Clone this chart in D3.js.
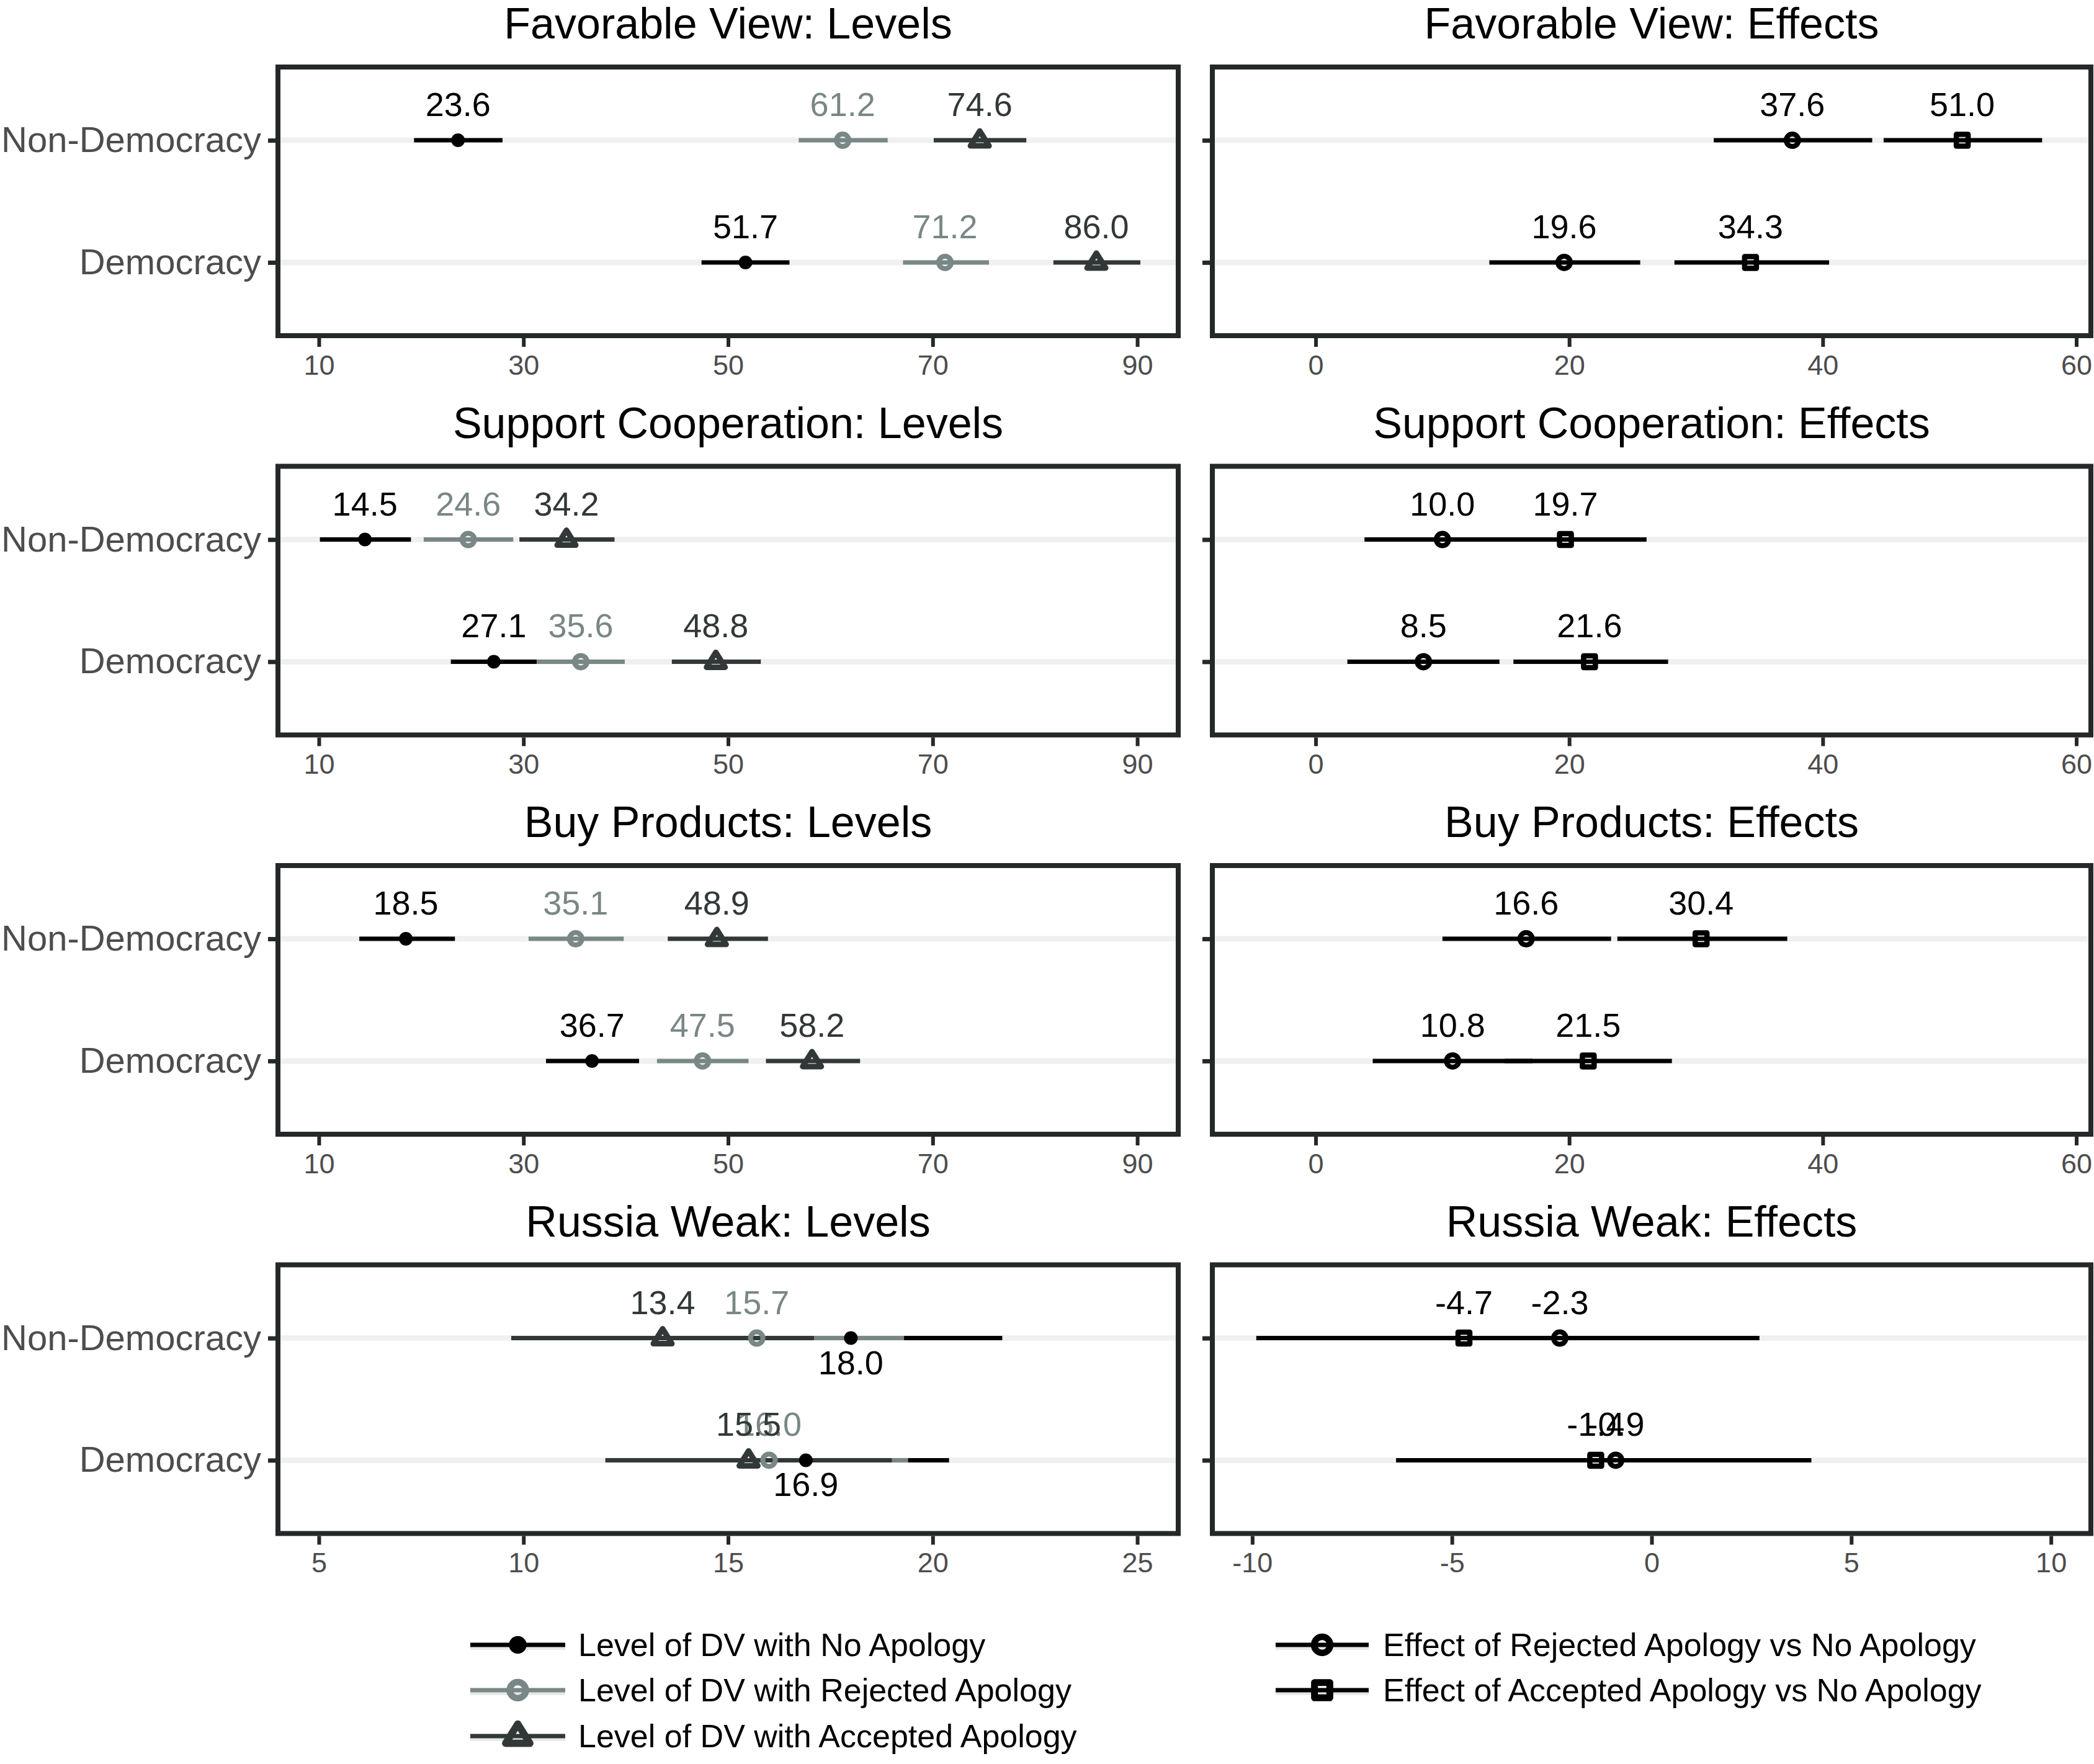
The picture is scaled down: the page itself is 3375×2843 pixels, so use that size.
<!DOCTYPE html>
<html lang="en">
<head>
<meta charset="UTF-8" />
<title>Apology levels and effects</title>
<script src="https://d3js.org/d3.v7.min.js"></script>
<style>
  body { margin: 0; background: #fff; }
  svg { display: block; font-family: "Liberation Sans", Arial, Helvetica, sans-serif; }
</style>
</head>
<body>
<svg id="chart" width="3375" height="2843"></svg>
<script>
const outcomes = ["Favorable View", "Support Cooperation", "Buy Products", "Russia Weak"];
const regimes = ["Non-Democracy", "Democracy"];
const levelSeries = ["Level of DV with No Apology", "Level of DV with Rejected Apology", "Level of DV with Accepted Apology"];
const effectSeries = ["Effect of Rejected Apology vs No Apology", "Effect of Accepted Apology vs No Apology"];

// [outcome][regime][series]
const levelEst = [
  [[23.6, 61.2, 74.6], [51.7, 71.2, 86.0]],
  [[14.5, 24.6, 34.2], [27.1, 35.6, 48.8]],
  [[18.5, 35.1, 48.9], [36.7, 47.5, 58.2]],
  [[18.0, 15.7, 13.4], [16.9, 16.0, 15.5]]
];
const levelLo = [
  [[19.3, 56.9, 70.1], [47.4, 67.1, 81.8]],
  [[10.1, 20.25, 29.6], [22.9, 31.3, 44.5]],
  [[13.95, 30.5, 44.1], [32.2, 43.05, 53.7]],
  [[14.3, 12.1, 9.7], [13.4, 12.6, 12.0]]
];
const levelHi = [
  [[27.95, 65.6, 79.15], [56.0, 75.5, 90.3]],
  [[19.0, 29.0, 38.9], [31.3, 39.9, 53.2]],
  [[23.3, 39.8, 53.9], [41.3, 52.0, 62.9]],
  [[21.7, 19.3, 17.1], [20.4, 19.4, 19.0]]
];
const effectEst = [
  [[37.6, 51.0], [19.6, 34.3]],
  [[10.0, 19.7], [8.5, 21.6]],
  [[16.6, 30.4], [10.8, 21.5]],
  [[-2.3, -4.7], [-0.9, -1.4]]
];
const effectLo = [
  [[31.4, 44.8], [13.7, 28.3]],
  [[3.85, 13.3], [2.5, 15.6]],
  [[10.0, 23.8], [4.5, 14.9]],
  [[-7.4, -9.9], [-5.8, -6.4]]
];
const effectHi = [
  [[43.9, 57.3], [25.6, 40.5]],
  [[16.15, 26.1], [14.5, 27.8]],
  [[23.3, 37.2], [17.1, 28.1]],
  [[2.7, 0.5], [4.0, 3.5]]
];

const levelLimits = [[10, 90], [10, 90], [10, 90], [5, 25]];
const levelTicks = [[10, 30, 50, 70, 90], [10, 30, 50, 70, 90], [10, 30, 50, 70, 90], [5, 10, 15, 20, 25]];
const effectLimits = [[-5, 58], [-5, 58], [-5, 58], [-10, 10]];
const effectTicks = [[0, 20, 40, 60], [0, 20, 40, 60], [0, 20, 40, 60], [-10, -5, 0, 5, 10]];
// series whose value labels sit under the point
const levelBelow = [[], [], [], [0]];

const levelColors = ["#000000", "#798786", "#323838"];
const levelShapes = ["dot", "circle", "triangle"];
const effectColors = ["#000000", "#000000"];
const effectShapes = ["circle", "square"];

const svg = d3.select("#chart");
const FONT = '"Liberation Sans", Arial, Helvetica, sans-serif';
const INK = "#242828";
const boxH = 433, rowTop = 108, rowPitch = 643.5;
const colL = [448, 1899], colR = [1954, 3370];

function shape(g, kind, color, x, y, s) {
  s = s || 1;
  if (kind === "dot") {
    g.append("circle").attr("cx", x).attr("cy", y).attr("r", 11 * s).attr("fill", color);
  } else if (kind === "circle") {
    g.append("circle").attr("cx", x).attr("cy", y).attr("r", 10 * s)
      .attr("fill", "none").attr("stroke", color).attr("stroke-width", 8 * s);
  } else if (kind === "triangle") {
    const p = d3.path();
    p.moveTo(x, y - 15 * s); p.lineTo(x + 15 * s, y + 9 * s); p.lineTo(x - 15 * s, y + 9 * s); p.closePath();
    g.append("path").attr("d", p.toString()).attr("fill", "none").attr("stroke", color)
      .attr("stroke-width", 9 * s).attr("stroke-linejoin", "round");
  } else {
    g.append("rect").attr("x", x - 9.5 * s).attr("y", y - 9.5 * s).attr("width", 19 * s).attr("height", 19 * s)
      .attr("fill", "none").attr("stroke", color).attr("stroke-width", 8.5 * s).attr("stroke-linejoin", "round");
  }
}

function drawPanel(o) {
  const top = o.top, x0 = o.cols[0], x1 = o.cols[1];
  const pad = (o.limits[1] - o.limits[0]) * 0.05;
  const x = d3.scaleLinear().domain([o.limits[0] - pad, o.limits[1] + pad]).range([x0, x1]);
  const y = d3.scalePoint().domain(regimes).range([top, top + boxH]).padding(0.6);
  const g = svg.append("g");

  g.append("text").attr("x", (x0 + x1) / 2).attr("y", top - 46)
    .attr("text-anchor", "middle").attr("font-size", 70).attr("fill", "#000").text(o.title);

  g.selectAll(".grid").data(regimes).join("line")
    .attr("x1", x0).attr("x2", x1).attr("y1", d => y(d)).attr("y2", d => y(d))
    .attr("stroke", "#eff0ef").attr("stroke-width", 9);

  const pts = [];
  o.est.forEach((row, ri) => row.forEach((v, si) => pts.push({
    r: regimes[ri], si, v, lo: o.lo[ri][si], hi: o.hi[ri][si]
  })));
  pts.sort((a, b) => a.si - b.si);

  g.selectAll(".bar").data(pts).join("line")
    .attr("x1", d => x(d.lo)).attr("x2", d => x(d.hi))
    .attr("y1", d => y(d.r)).attr("y2", d => y(d.r))
    .attr("stroke", d => o.colors[d.si]).attr("stroke-width", 7);

  pts.forEach(d => shape(g, o.shapes[d.si], o.colors[d.si], x(d.v), y(d.r)));

  g.selectAll(".val").data(pts).join("text")
    .attr("x", d => x(d.v))
    .attr("y", d => y(d.r) + (o.below.includes(d.si) ? 58 : -39))
    .attr("text-anchor", "middle").attr("font-size", 54)
    .attr("fill", d => o.colors[d.si])
    .text(d => d.v.toFixed(1));

  g.append("rect").attr("x", x0).attr("y", top).attr("width", x1 - x0).attr("height", boxH)
    .attr("fill", "none").attr("stroke", INK).attr("stroke-width", 8);

  const ax = g.append("g").attr("transform", `translate(0,${top + boxH + 4})`)
    .call(d3.axisBottom(x).tickValues(o.ticks).tickSize(14).tickPadding(13).tickFormat(d => String(d)));
  ax.attr("font-family", FONT).attr("font-size", 45);
  ax.select(".domain").remove();
  ax.selectAll("line").attr("stroke", INK).attr("stroke-width", 6);
  ax.selectAll("text").attr("fill", "#4d4d4d");

  const ay = g.append("g").attr("transform", `translate(${x0 - 4},0)`)
    .call(d3.axisLeft(y).tickSize(12).tickPadding(11).tickFormat(o.showY ? (d => d) : () => ""));
  ay.attr("font-family", FONT).attr("font-size", 58);
  ay.select(".domain").remove();
  ay.selectAll("line").attr("stroke", INK).attr("stroke-width", 7);
  ay.selectAll("text").attr("fill", "#4d4d4d");
}

outcomes.forEach((name, i) => {
  const top = rowTop + i * rowPitch;
  drawPanel({
    title: name + ": Levels", top, cols: colL, limits: levelLimits[i], ticks: levelTicks[i],
    est: levelEst[i], lo: levelLo[i], hi: levelHi[i], colors: levelColors, shapes: levelShapes,
    below: levelBelow[i], showY: true
  });
  drawPanel({
    title: name + ": Effects", top, cols: colR, limits: effectLimits[i], ticks: effectTicks[i],
    est: effectEst[i], lo: effectLo[i], hi: effectHi[i], colors: effectColors, shapes: effectShapes,
    below: [], showY: false
  });
});

// legends
function legend(items, colors, shapes, kx0, kx1, tx, rows) {
  const g = svg.append("g");
  items.forEach((label, i) => {
    const yy = rows[i];
    g.append("line").attr("x1", kx0).attr("x2", kx1).attr("y1", yy + 4).attr("y2", yy + 4)
      .attr("stroke", "#e6e8e7").attr("stroke-width", 8);
    g.append("line").attr("x1", kx0).attr("x2", kx1).attr("y1", yy).attr("y2", yy)
      .attr("stroke", colors[i]).attr("stroke-width", 7);
    shape(g, shapes[i], colors[i], (kx0 + kx1) / 2, yy, 1.3);
    g.append("text").attr("x", tx).attr("y", yy).attr("dy", "0.35em")
      .attr("font-size", 52).attr("fill", "#000").text(label);
  });
}
const legendRows = [2651, 2724, 2798];
legend(levelSeries, levelColors, levelShapes, 758, 911, 932, legendRows);
legend(effectSeries, effectColors, effectShapes, 2056, 2206, 2229, legendRows);
</script>
</body>
</html>
